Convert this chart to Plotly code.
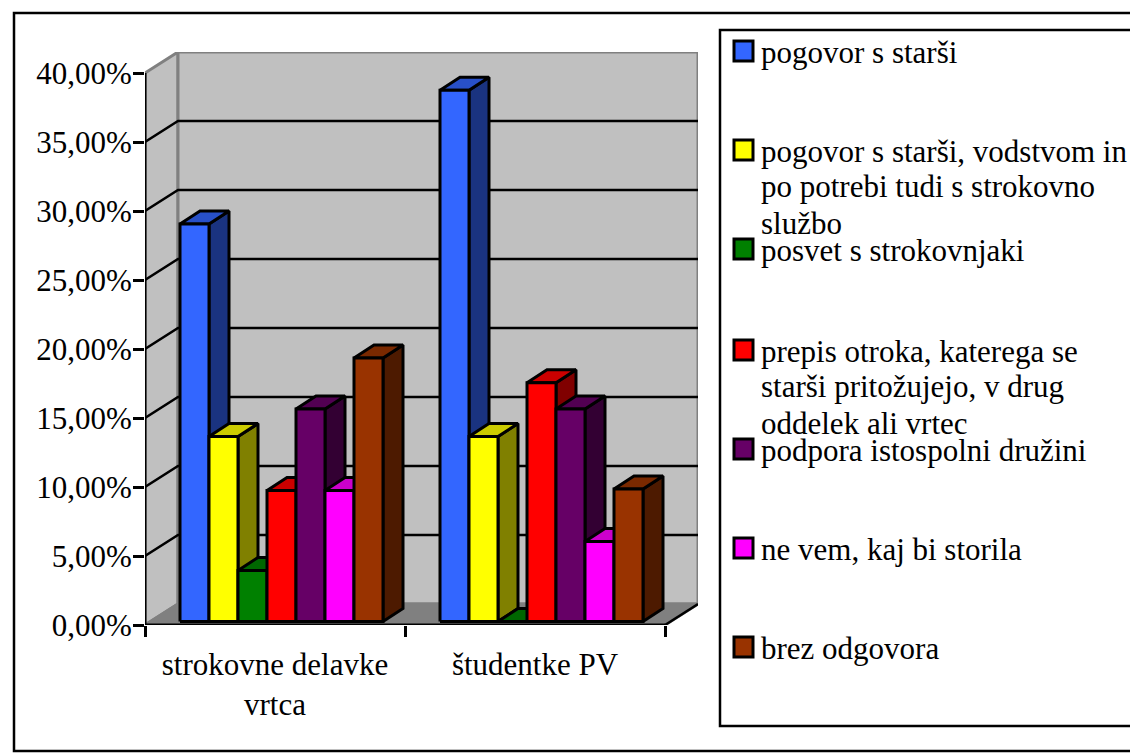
import plotly.graph_objects as go

categories = ["strokovne delavke<br>vrtca", "študentke PV"]
series_names = ["pogovor s starši",
                "pogovor s starši, vodstvom in|po potrebi tudi s strokovno|službo",
                "posvet s strokovnjaki",
                "prepis otroka, katerega se|starši pritožujejo, v drug|oddelek ali vrtec",
                "podpora istospolni družini",
                "ne vem, kaj bi storila",
                "brez odgovora"]
pogovor = [28.8, 38.5]
pogovor_vodstvo = [13.4, 13.4]
posvet = [3.7, 0.0]
prepis = [9.5, 17.3]
podpora = [15.4, 15.4]
ne_vem = [9.5, 5.8]
brez = [19.1, 9.6]
values = [pogovor, pogovor_vodstvo, posvet, prepis, podpora, ne_vem, brez]
front_colors = ["#3366FF", "#FFFF00", "#008000", "#FF0000", "#660066", "#FF00FF", "#993300"]
top_colors = ["#2850C8", "#CCCC00", "#006600", "#CC0000", "#520052", "#CC00CC", "#7A2900"]
side_colors = ["#1A3380", "#808000", "#004000", "#800000", "#330033", "#800080", "#4D1A00"]
y_ticks = [0, 5, 10, 15, 20, 25, 30, 35, 40]
y_labels = ["0,00%", "5,00%", "10,00%", "15,00%", "20,00%", "25,00%", "30,00%", "35,00%", "40,00%"]

W, H = 1130, 756
FONT = "Liberation Serif"
FS = 31
PX_X0, PX_X1, PX_Y0, PX_Y1 = 145, 698, 625, 52
U = 260.0    # px per category
V = 13.8     # px per percent
WX, WY = 33 / U, 21 / V      # wall depth
BX, BY = 20 / U, 13 / V      # bar depth
OX, OY = 6.5 / U, 3.5 / V    # bar offset into the floor
BW = 29 / U                  # bar width
GAP = (1 - 7 * BW) / 2
GRAY = "#808080"
WALL = "#C0C0C0"


def poly(xs, ys, fill, name, line="black", lw=3):
    return go.Scatter(x=xs, y=ys, mode="lines", fill="toself", fillcolor=fill,
                      line=dict(color=line, width=lw), name=name, showlegend=False,
                      hoverinfo="skip", cliponaxis=False)


def seg(xs, ys, color="black", lw=2.5):
    return go.Scatter(x=xs, y=ys, mode="lines", line=dict(color=color, width=lw),
                      showlegend=False, hoverinfo="skip", cliponaxis=False)


XMAX = 2.0
YMAX = 40.0
fig = go.Figure()
# walls and floor
fig.add_trace(poly([0, WX, WX, 0, 0], [0, WY, YMAX + WY, YMAX, 0], WALL, "wall", GRAY))
fig.add_trace(poly([WX, XMAX + WX, XMAX + WX, WX, WX], [WY, WY, YMAX + WY, YMAX + WY, WY], WALL, "wall", GRAY))
fig.add_trace(poly([0, WX, XMAX + WX, XMAX, 0], [0, WY, WY, 0, 0], GRAY, "floor", GRAY))
# gridlines on the walls
for t in y_ticks[1:-1]:
    fig.add_trace(seg([0, WX, XMAX + WX], [t, t + WY, t + WY]))
fig.add_trace(seg([XMAX, XMAX + WX], [0, WY]))
# axis lines
fig.add_trace(seg([0, 0], [0, YMAX], lw=3))
fig.add_trace(seg([0, XMAX], [0, 0], lw=3))

# bars
for s, vals in enumerate(values):
    xs_side, ys_side, xs_top, ys_top, xs_f, ys_f = [], [], [], [], [], []
    for c, v in enumerate(vals):
        x0 = c + GAP + s * BW + OX
        x1 = x0 + BW
        b = OY
        t = OY + v
        xs_f += [x0, x1, x1, x0, x0, None]
        ys_f += [b, b, t, t, b, None]
        xs_top += [x0, x0 + BX, x1 + BX, x1, x0, None]
        ys_top += [t, t + BY, t + BY, t, t, None]
        xs_side += [x1, x1 + BX, x1 + BX, x1, x1, None]
        ys_side += [b, b + BY, t + BY, t, b, None]
    nm = series_names[s].replace("|", " ")
    fig.add_trace(poly(xs_side, ys_side, side_colors[s], nm))
    fig.add_trace(poly(xs_top, ys_top, top_colors[s], nm))
    fig.add_trace(poly(xs_f, ys_f, front_colors[s], nm))


def px(x):
    return x / W


def py(y):
    return 1 - y / H


shapes = [
    dict(type="rect", xref="paper", yref="paper", x0=px(14), x1=px(1160), y0=py(13), y1=py(751),
         line=dict(color="black", width=2.5), layer="below"),
    dict(type="rect", xref="paper", yref="paper", x0=px(720), x1=px(1160), y0=py(30), y1=py(726),
         line=dict(color="black", width=2.5), layer="below"),
]
annotations = []
legend_y = [51, 150, 249, 350, 449, 548, 647]
LINE_H = 36
for i, name in enumerate(series_names):
    yc = legend_y[i]
    shapes.append(dict(type="rect", xref="paper", yref="paper", x0=px(734), x1=px(753),
                       y0=py(yc - 10), y1=py(yc + 10), fillcolor=front_colors[i],
                       line=dict(color="black", width=3)))
    for j, part in enumerate(name.split("|")):
        annotations.append(dict(text=part, xref="paper", yref="paper", x=px(759), y=py(yc + 1 + j * LINE_H),
                                xanchor="left", yanchor="middle", showarrow=False,
                                font=dict(family=FONT, size=FS, color="black")))

fig.update_layout(
    width=W, height=H, margin=dict(l=0, r=0, t=0, b=0, autoexpand=False),
    paper_bgcolor="white", plot_bgcolor="rgba(0,0,0,0)", showlegend=False,
    shapes=shapes, annotations=annotations,
    font=dict(family=FONT, size=FS, color="black"),
    xaxis=dict(domain=[px(PX_X0), px(PX_X1)], range=[0, (PX_X1 - PX_X0) / U], showgrid=False, zeroline=False,
               tickmode="array", tickvals=[0.5, 1.5], ticktext=categories, ticks="",
               ticklabelstandoff=18, showline=False,
               minor=dict(tickmode="array", tickvals=[0, 1, 2], ticks="outside", ticklen=11,
                          tickwidth=3, tickcolor="black", showgrid=False)),
    yaxis=dict(domain=[py(PX_Y0), py(PX_Y1)], range=[0, (PX_Y0 - PX_Y1) / V], showgrid=False, zeroline=False,
               tickmode="array", tickvals=y_ticks, ticktext=y_labels, ticks="outside", ticklen=11,
               tickwidth=3, tickcolor="black", showline=False, ticklabelstandoff=-5),
)
fig.write_html("out.html", post_script="document.body.style.margin='0';", config={"displayModeBar": False})
